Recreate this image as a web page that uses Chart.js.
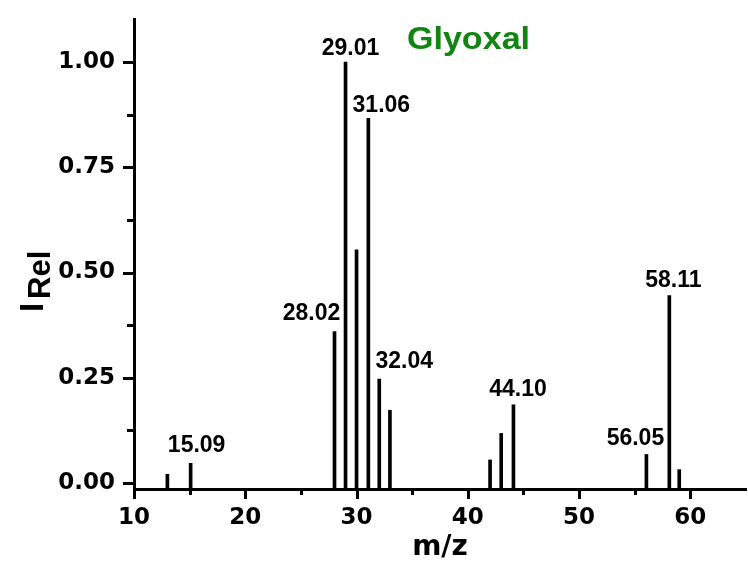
<!DOCTYPE html>
<html>
<head>
<meta charset="utf-8">
<script src="https://cdn.jsdelivr.net/npm/chart.js@4/dist/chart.umd.min.js"></script>
<style>
  html, body { margin: 0; padding: 0; background: #fff; }
  canvas { display: block; }
</style>
</head>
<body>
<canvas id="ms" width="748" height="561"></canvas>
<script>
// Mass spectrum of glyoxal: relative intensity of each fragment vs m/z
const mzValues     = [13, 15.09, 28.02, 29.01, 30, 31.06, 32.04, 33, 42, 43, 44.10, 56.05, 58.11, 59];
const relIntensity = [0.021, 0.047, 0.36, 1.00, 0.554, 0.866, 0.247, 0.173, 0.055, 0.118, 0.186, 0.068, 0.445, 0.032];
const peakLabels   = ['', '15.09', '28.02', '29.01', '', '31.06', '32.04', '', '', '', '44.10', '56.05', '58.11', ''];

const xTickValues      = [10, 20, 30, 40, 50, 60];
const xMinorTickValues = [15, 25, 35, 45, 55];
const yTickValues      = [0, 0.25, 0.5, 0.75, 1.0];
const yMinorTickValues = [0.125, 0.375, 0.625, 0.875];

const chartTitle = 'Glyoxal';
const xTitle = 'm/z';
const yTitleMain = 'I';
const yTitleSub = 'Rel';

// axis extents
const X_MIN = 10, X_MAX = 65;
const Y_MIN = -0.014, Y_MAX = 1.102;

// label nudges [dx, gap above peak top] in px, one per peak
const labelNudge = [null, [6, 11], [-23, 11], [5, 7], null, [13, 6.5], [25, 11.5],
                    null, null, null, [4.5, 9], [-11, 9], [4, 8.5], null];

const INK = '#000';
const GREEN = '#108510';
const tickFont = { family: "'DejaVu Sans', sans-serif", size: 23, weight: 'bold' };

const axisDecor = {
  id: 'axisDecor',
  afterDraw(chart) {
    const { ctx, chartArea: a, scales: { x, y } } = chart;
    ctx.save();
    ctx.strokeStyle = INK;
    ctx.lineWidth = 3;
    ctx.lineCap = 'butt';

    // outward tick marks, major and minor
    const hTick = (v, len) => {
      const py = Math.round(y.getPixelForValue(v)) + 0.5;
      ctx.beginPath(); ctx.moveTo(a.left, py); ctx.lineTo(a.left - len, py); ctx.stroke();
    };
    const vTick = (v, len) => {
      const px = Math.round(x.getPixelForValue(v)) + 0.5;
      ctx.beginPath(); ctx.moveTo(px, a.bottom); ctx.lineTo(px, a.bottom + len); ctx.stroke();
    };
    yTickValues.forEach(v => hTick(v, 11));
    yMinorTickValues.forEach(v => hTick(v, 7));
    xTickValues.forEach(v => vTick(v, 10));
    xMinorTickValues.forEach(v => vTick(v, 6));

    // peak annotations
    ctx.fillStyle = INK;
    ctx.font = "bold 23px 'Liberation Sans', Arial, sans-serif";
    ctx.textAlign = 'center';
    ctx.textBaseline = 'alphabetic';
    peakLabels.forEach((txt, i) => {
      if (!txt) return;
      const [dx, gap] = labelNudge[i];
      const px = x.getPixelForValue(mzValues[i]) + dx;
      const py = y.getPixelForValue(relIntensity[i]) - gap;
      ctx.fillText(txt, px, py);
    });

    // x axis title
    ctx.font = "bold 28px 'DejaVu Sans', sans-serif";
    ctx.fillText(xTitle, (a.left + a.right) / 2, 555);

    // y axis title with subscript, rotated
    ctx.save();
    ctx.translate(43, 312);
    ctx.rotate(-Math.PI / 2);
    ctx.textAlign = 'left';
    ctx.font = "bold 33px 'Liberation Sans', Arial, sans-serif";
    ctx.fillText(yTitleMain, 0, 0);
    ctx.font = "bold 31px 'Liberation Sans', Arial, sans-serif";
    ctx.fillText(yTitleSub, 13, 7);
    ctx.restore();

    // compound name
    ctx.save();
    ctx.fillStyle = GREEN;
    ctx.font = "bold 31px 'Liberation Sans', Arial, sans-serif";
    ctx.translate(468.5, 48.5);
    ctx.scale(1.1, 1);
    ctx.textAlign = 'center';
    ctx.fillText(chartTitle, 0, 0);
    ctx.restore();

    ctx.restore();
  }
};

new Chart(document.getElementById('ms'), {
  type: 'bar',
  data: {
    datasets: [{
      data: mzValues.map((m, i) => ({ x: m, y: relIntensity[i] })),
      backgroundColor: INK,
      borderWidth: 0,
      barThickness: 3,
      base: Y_MIN
    }]
  },
  options: {
    responsive: false,
    animation: false,
    devicePixelRatio: 1,
    layout: { padding: { top: 19, right: 2, left: 0, bottom: 0 } },
    plugins: { legend: { display: false }, tooltip: { enabled: false } },
    scales: {
      x: {
        type: 'linear',
        min: X_MIN, max: X_MAX,
        offset: false,
        afterBuildTicks: s => { s.ticks = xTickValues.map(v => ({ value: v })); },
        afterFit: s => { s.height = 72; s.paddingLeft = 0; s.paddingRight = 0; },
        grid: { display: true, drawOnChartArea: false, drawTicks: false, offset: false },
        border: { display: true, color: INK, width: 3 },
        ticks: { font: tickFont, color: INK, padding: 15, maxRotation: 0, autoSkip: false,
                 callback: v => String(v) }
      },
      y: {
        type: 'linear',
        min: Y_MIN, max: Y_MAX,
        afterBuildTicks: s => { s.ticks = yTickValues.map(v => ({ value: v })); },
        afterFit: s => { s.width = 134; s.paddingTop = 0; s.paddingBottom = 0; },
        grid: { display: true, drawOnChartArea: false, drawTicks: false },
        border: { display: true, color: INK, width: 3 },
        ticks: { font: tickFont, color: INK, padding: 19, callback: v => v.toFixed(2) }
      }
    }
  },
  plugins: [axisDecor]
});
</script>
</body>
</html>
